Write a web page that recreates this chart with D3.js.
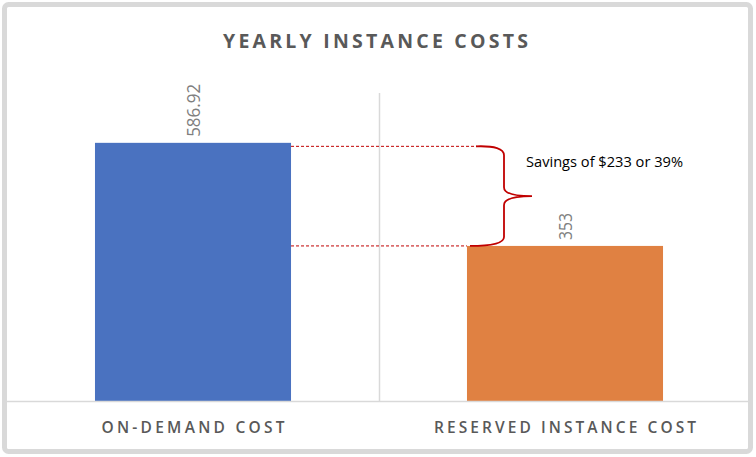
<!DOCTYPE html>
<html>
<head>
<meta charset="utf-8">
<script src="https://cdn.jsdelivr.net/npm/d3@7"></script>
<style>
  html, body { margin: 0; padding: 0; background: #ffffff; }
  svg { display: block; }
</style>
</head>
<body>
<svg id="chart" width="756" height="457"></svg>
<script>
const title = "YEARLY INSTANCE COSTS";
const categories = ["ON-DEMAND COST", "RESERVED INSTANCE COST"];
const values = [586.92, 353];
const valueLabels = ["586.92", "353"];
const barColors = ["#4a72c0", "#e08142"];
const yDomain = [0, 700];
const annotation = "Savings of $233 or 39%";

const svg = d3.select("#chart");
const W = 756, H = 457;
const plot = { left: 7, right: 751, top: 93, bottom: 401.5 };

svg.append("rect").attr("width", W).attr("height", H).attr("fill", "#ffffff");

// frame
svg.append("rect")
  .attr("x", 4.5).attr("y", 4.5).attr("width", 746).attr("height", 447)
  .attr("rx", 4).attr("fill", "#ffffff")
  .attr("stroke", "#d9d9d9").attr("stroke-width", 5);

const x = d3.scaleBand().domain(categories).range([plot.left, plot.right])
  .paddingInner(0.473).paddingOuter(0.2365);
const y = d3.scaleLinear().domain(yDomain).range([plot.bottom, plot.top]);

// category separator gridline
const step = x.step();
const sepX = plot.left + step;
svg.append("line")
  .attr("x1", Math.round(sepX) + 0.5).attr("x2", Math.round(sepX) + 0.5)
  .attr("y1", y(yDomain[1])).attr("y2", plot.bottom)
  .attr("stroke", "#d9d9d9").attr("stroke-width", 1.5);

// bars
svg.selectAll("rect.bar").data(categories).enter().append("rect")
  .attr("class", "bar")
  .attr("x", d => x(d))
  .attr("width", x.bandwidth())
  .attr("y", (d, i) => y(values[i]))
  .attr("height", (d, i) => plot.bottom - y(values[i]))
  .attr("fill", (d, i) => barColors[i]);

// axis line
svg.append("line")
  .attr("x1", plot.left - 2).attr("x2", plot.right)
  .attr("y1", plot.bottom).attr("y2", plot.bottom)
  .attr("stroke", "#d9d9d9").attr("stroke-width", 1.5);

// category labels
svg.selectAll("text.cat").data(categories).enter().append("text")
  .attr("class", "cat")
  .attr("x", d => x(d) + x.bandwidth() / 2)
  .attr("y", 433)
  .attr("text-anchor", "middle")
  .attr("font-family", "Open Sans, sans-serif")
  .attr("font-size", 15.5)
  .attr("font-weight", 600)
  .attr("fill", "#595959")
  .attr("textLength", (d, i) => i === 0 ? 183 : 262)
  .attr("lengthAdjust", "spacing")
  .text(d => d);

// value labels (rotated)
svg.selectAll("text.val").data(categories).enter().append("text")
  .attr("class", "val")
  .attr("transform", (d, i) => `translate(${x(d) + x.bandwidth() / 2},${y(values[i]) - 6}) rotate(-90)`)
  .attr("dy", "0.36em")
  .attr("text-anchor", "start")
  .attr("font-family", "Open Sans, sans-serif")
  .attr("font-size", 18.5)
  .attr("fill", "#7f7f7f")
  .attr("textLength", (d, i) => i === 0 ? 53 : 27)
  .attr("lengthAdjust", "spacingAndGlyphs")
  .text((d, i) => valueLabels[i]);

// title
svg.append("text")
  .attr("x", 375.5).attr("y", 47.5)
  .attr("text-anchor", "middle")
  .attr("font-family", "Open Sans, sans-serif")
  .attr("font-size", 19.5)
  .attr("font-weight", 700)
  .attr("fill", "#595959")
  .attr("textLength", 305)
  .attr("lengthAdjust", "spacing")
  .text(title);

// dashed guide lines
const yTop = y(values[0]) + 3.5;
const yBot = y(values[1]);
const barRight = x(categories[0]) + x.bandwidth();
svg.append("line")
  .attr("x1", barRight).attr("x2", 477).attr("y1", yTop).attr("y2", yTop)
  .attr("stroke", "#c00000").attr("stroke-width", 1).attr("stroke-dasharray", "3,2");
svg.append("line")
  .attr("x1", barRight).attr("x2", x(categories[1])).attr("y1", yBot).attr("y2", yBot)
  .attr("stroke", "#c00000").attr("stroke-width", 1).attr("stroke-dasharray", "3,2");

// brace
const bx0 = 476, bx1 = 504, bx2 = 532;
const ym = (yTop + yBot) / 2;
const brace = d3.path();
brace.moveTo(bx0, yTop);
brace.quadraticCurveTo(bx1, yTop - 1, bx1, yTop + 9);
brace.lineTo(bx1, ym - 9);
brace.quadraticCurveTo(bx1, ym, bx2, ym);
brace.quadraticCurveTo(bx1, ym, bx1, ym + 9);
brace.lineTo(bx1, yBot - 9);
brace.quadraticCurveTo(bx1, yBot, bx0 - 6, yBot);
svg.append("path").attr("d", brace.toString())
  .attr("fill", "none").attr("stroke", "#c00000").attr("stroke-width", 1.8);

// annotation text
svg.append("text")
  .attr("x", 526).attr("y", 167)
  .attr("font-family", "Open Sans, sans-serif")
  .attr("font-size", 14.5)
  .attr("fill", "#000000")
  .attr("textLength", 157)
  .attr("lengthAdjust", "spacingAndGlyphs")
  .text(annotation);
</script>
</body>
</html>
